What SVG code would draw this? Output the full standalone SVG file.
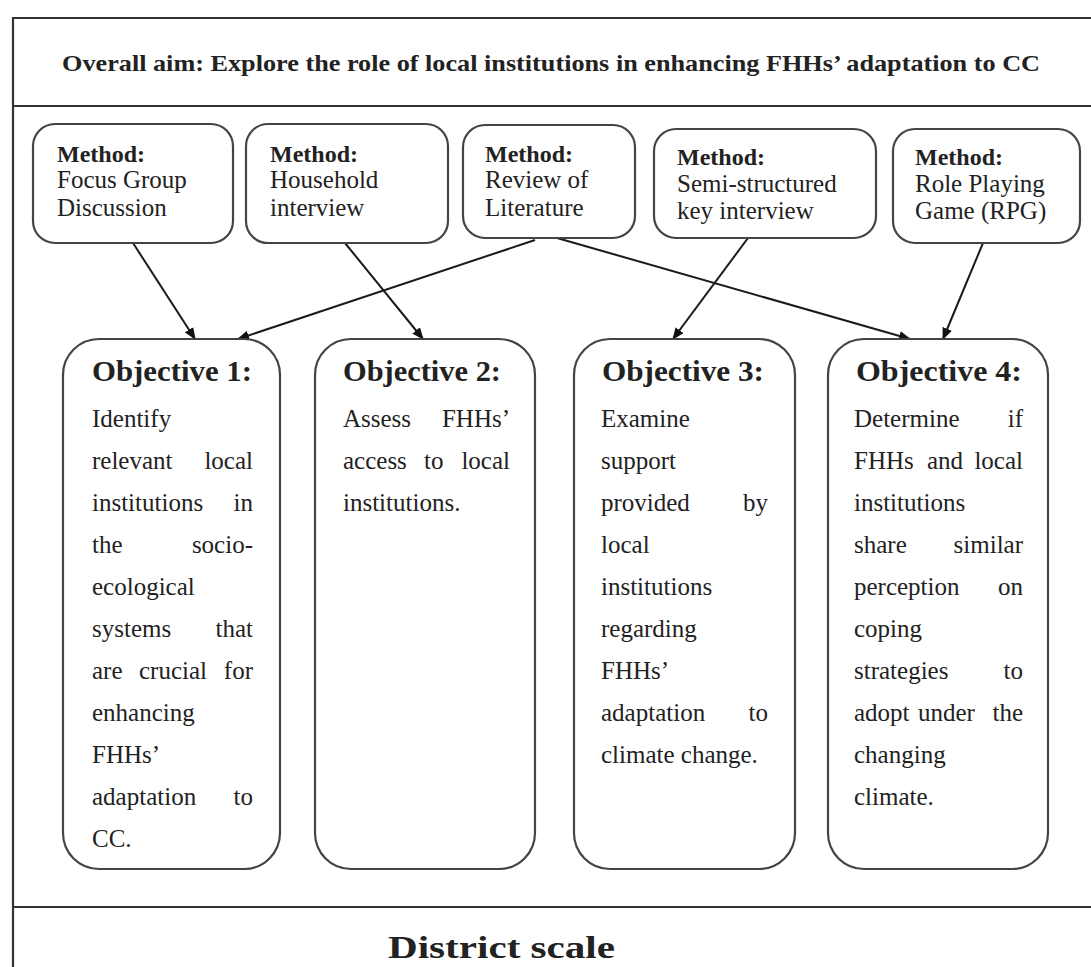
<svg xmlns="http://www.w3.org/2000/svg" width="1091" height="967" viewBox="0 0 1091 967">
<style>
.frame{stroke:#333;stroke-width:2.2;fill:none}
.mbox{fill:#fff;stroke:#444;stroke-width:2.2}
.obox{fill:#fff;stroke:#444;stroke-width:2.2}
.t{font-family:"Liberation Serif","Times New Roman",serif;fill:#222}
.mh{font-size:24px;font-weight:bold}
.mt{font-size:25px}
.oh{font-size:29px;font-weight:bold}
.ot{font-size:25px}
.e{text-anchor:end}
.conn{stroke:#1a1a1a;stroke-width:2;fill:none;marker-end:url(#ah)}
</style>
<defs>
<marker id="ah" viewBox="0 0 12 10" refX="11" refY="5" markerWidth="12" markerHeight="10" markerUnits="userSpaceOnUse" orient="auto">
<path d="M0,0 L12,5 L0,10 z" fill="#111"/>
</marker>
</defs>
<rect width="1091" height="967" fill="#fff"/>
<g id="frame">
<path class="frame" d="M13,967 V18 H1091"/>
<line class="frame" x1="13" y1="106" x2="1091" y2="106"/>
<line class="frame" x1="13" y1="907" x2="1091" y2="907"/>
</g>
<g id="aim">
<text class="t" x="62" y="71" font-size="23" font-weight="bold" textLength="978" lengthAdjust="spacingAndGlyphs">Overall aim: Explore the role of local institutions in enhancing FHHs’ adaptation to CC</text>
</g>
<g id="connectors">
<line class="conn" x1="133" y1="243" x2="195" y2="339"/>
<line class="conn" x1="345" y1="243" x2="423" y2="339"/>
<line class="conn" x1="535" y1="240" x2="238" y2="339"/>
<line class="conn" x1="557" y1="238" x2="910" y2="339"/>
<line class="conn" x1="748" y1="238" x2="673" y2="339"/>
<line class="conn" x1="983" y1="243" x2="943" y2="339"/>
</g>
<g id="method1">
<rect class="mbox" x="33" y="124" width="200" height="119" rx="22"/>
<text class="t mh" x="57" y="162">Method:</text>
<text class="t mt" x="57" y="188">Focus Group</text>
<text class="t mt" x="57" y="216">Discussion</text>
</g>
<g id="method2">
<rect class="mbox" x="246" y="124" width="202" height="119" rx="22"/>
<text class="t mh" x="270" y="162">Method:</text>
<text class="t mt" x="270" y="188">Household</text>
<text class="t mt" x="270" y="216">interview</text>
</g>
<g id="method3">
<rect class="mbox" x="463" y="125" width="172" height="113" rx="22"/>
<text class="t mh" x="485" y="162">Method:</text>
<text class="t mt" x="485" y="188">Review of</text>
<text class="t mt" x="485" y="216">Literature</text>
</g>
<g id="method4">
<rect class="mbox" x="654" y="129" width="222" height="109" rx="22"/>
<text class="t mh" x="677" y="165">Method:</text>
<text class="t mt" x="677" y="192">Semi-structured</text>
<text class="t mt" x="677" y="219">key interview</text>
</g>
<g id="method5">
<rect class="mbox" x="893" y="129" width="187" height="114" rx="22"/>
<text class="t mh" x="915" y="165">Method:</text>
<text class="t mt" x="915" y="192">Role Playing</text>
<text class="t mt" x="915" y="219">Game (RPG)</text>
</g>
<g id="objective1">
<rect class="obox" x="63" y="339" width="217" height="530" rx="36"/>
<text class="t oh" x="92" y="381" textLength="160" lengthAdjust="spacingAndGlyphs">Objective 1:</text>
<text class="t ot" x="92" y="427">Identify</text>
<text class="t ot" y="469"><tspan x="92">relevant</tspan><tspan class="e" x="253">local</tspan></text>
<text class="t ot" y="511"><tspan x="92">institutions</tspan><tspan class="e" x="253">in</tspan></text>
<text class="t ot" y="553"><tspan x="92">the</tspan><tspan class="e" x="253">socio-</tspan></text>
<text class="t ot" x="92" y="595">ecological</text>
<text class="t ot" y="637"><tspan x="92">systems</tspan><tspan class="e" x="253">that</tspan></text>
<text class="t ot" y="679"><tspan x="92">are</tspan><tspan x="139">crucial</tspan><tspan class="e" x="253">for</tspan></text>
<text class="t ot" x="92" y="721">enhancing</text>
<text class="t ot" x="92" y="763">FHHs’</text>
<text class="t ot" y="805"><tspan x="92">adaptation</tspan><tspan class="e" x="253">to</tspan></text>
<text class="t ot" x="92" y="847">CC.</text>
</g>
<g id="objective2">
<rect class="obox" x="315" y="339" width="220" height="530" rx="36"/>
<text class="t oh" x="343" y="381" textLength="158" lengthAdjust="spacingAndGlyphs">Objective 2:</text>
<text class="t ot" y="427"><tspan x="343">Assess</tspan><tspan class="e" x="510">FHHs’</tspan></text>
<text class="t ot" y="469"><tspan x="343">access</tspan><tspan x="424">to</tspan><tspan class="e" x="510">local</tspan></text>
<text class="t ot" x="343" y="511">institutions.</text>
</g>
<g id="objective3">
<rect class="obox" x="574" y="339" width="221" height="530" rx="36"/>
<text class="t oh" x="602" y="381" textLength="162" lengthAdjust="spacingAndGlyphs">Objective  3:</text>
<text class="t ot" x="601" y="427">Examine</text>
<text class="t ot" x="601" y="469">support</text>
<text class="t ot" y="511"><tspan x="601">provided</tspan><tspan class="e" x="768">by</tspan></text>
<text class="t ot" x="601" y="553">local</text>
<text class="t ot" x="601" y="595">institutions</text>
<text class="t ot" x="601" y="637">regarding</text>
<text class="t ot" x="601" y="679">FHHs’</text>
<text class="t ot" y="721"><tspan x="601">adaptation</tspan><tspan class="e" x="768">to</tspan></text>
<text class="t ot" x="601" y="763">climate change.</text>
</g>
<g id="objective4">
<rect class="obox" x="828" y="339" width="220" height="530" rx="36"/>
<text class="t oh" x="856" y="381" textLength="166" lengthAdjust="spacingAndGlyphs">Objective  4:</text>
<text class="t ot" y="427"><tspan x="854">Determine</tspan><tspan class="e" x="1023">if</tspan></text>
<text class="t ot" y="469"><tspan x="854">FHHs</tspan><tspan x="927">and</tspan><tspan class="e" x="1023">local</tspan></text>
<text class="t ot" x="854" y="511">institutions</text>
<text class="t ot" y="553"><tspan x="854">share</tspan><tspan class="e" x="1023">similar</tspan></text>
<text class="t ot" y="595"><tspan x="854">perception</tspan><tspan class="e" x="1023">on</tspan></text>
<text class="t ot" x="854" y="637">coping</text>
<text class="t ot" y="679"><tspan x="854">strategies</tspan><tspan class="e" x="1023">to</tspan></text>
<text class="t ot" y="721"><tspan x="854">adopt</tspan><tspan x="918">under</tspan><tspan class="e" x="1023">the</tspan></text>
<text class="t ot" x="854" y="763">changing</text>
<text class="t ot" x="854" y="805">climate.</text>
</g>
<g id="district">
<text class="t" x="388" y="958" font-size="31" font-weight="bold" textLength="227" lengthAdjust="spacingAndGlyphs">District  scale</text>
</g>
</svg>
